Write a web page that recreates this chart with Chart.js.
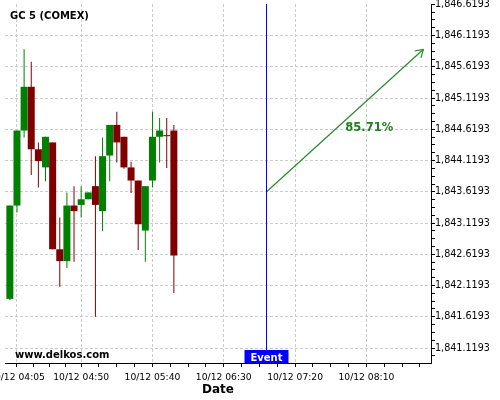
<!DOCTYPE html>
<html>
<head>
<meta charset="utf-8">
<script src="https://cdn.jsdelivr.net/npm/chart.js@4.4.1/dist/chart.umd.min.js"></script>
<style>
  html, body { margin: 0; padding: 0; background: #fff; }
</style>
</head>
<body>
<canvas id="chart" width="500" height="400"></canvas>
<script>
// --- candle data (5 min bars, 10/12) ---
const candleTimes = ['04:00','04:05','04:10','04:15','04:20','04:25','04:30','04:35','04:40','04:45','04:50','04:55',
                     '05:00','05:05','05:10','05:15','05:20','05:25','05:30','05:35','05:40','05:45','05:50','05:55'];
const openVals  = [1841.906,1843.40,1844.60,1845.30,1844.30,1844.01,1844.41,1842.70,1842.51,1843.40,1843.41,1843.50,
                   1843.71,1843.31,1844.20,1844.69,1844.50,1844.01,1843.80,1843.00,1843.80,1844.50,1844.52,1844.60];
const highVals  = [1843.40,1844.60,1845.90,1845.70,1844.41,1844.50,1844.41,1843.21,1843.61,1843.71,1843.71,1843.61,
                   1844.19,1844.49,1844.69,1844.90,1844.50,1844.10,1843.80,1843.71,1844.90,1844.80,1844.80,1844.69];
const lowVals   = [1841.89,1843.29,1844.49,1843.89,1843.69,1843.79,1842.70,1842.10,1842.40,1842.50,1843.21,1843.50,
                   1841.62,1842.99,1843.79,1844.09,1843.99,1843.60,1842.69,1842.50,1843.69,1844.09,1844.00,1842.00];
const closeVals = [1843.40,1844.60,1845.30,1844.30,1844.11,1844.50,1842.70,1842.51,1843.40,1843.31,1843.50,1843.61,
                   1843.41,1844.19,1844.69,1844.41,1844.01,1843.80,1843.10,1843.71,1844.50,1844.60,1844.51,1842.60];

// --- axis ticks ---
const xTickTimes = ['04:05','04:50','05:40','06:30','07:20','08:10'];
const yTickValues = [1841.1193,1841.6193,1842.1193,1842.6193,1843.1193,1843.6193,
                     1844.1193,1844.6193,1845.1193,1845.6193,1846.1193,1846.6193];

// --- event + forecast arrow ---
const eventTime = '07:00';
const arrowTimes = ['07:00','08:50'];
const arrowValues = [1843.62, 1845.90];
const forecastText = '85.71%';
const forecastAt = { time: '08:12', value: 1844.65 };

const X_MIN = 236.6, X_MAX = 535.3;       // minutes of the day
const Y_MIN = 1840.88, Y_MAX = 1846.625;

const GREEN = '#008000', RED = '#800000';

function toMin(t) { const [h, m] = t.split(':').map(Number); return h * 60 + m; }
function fmtTime(v) {
  const h = Math.floor(v / 60), m = Math.round(v - h * 60);
  return String(h).padStart(2, '0') + ':' + String(m).padStart(2, '0');
}
function fmtPrice(v) {
  const [i, d] = v.toFixed(4).split('.');
  return i.replace(/\B(?=(\d{3})+(?!\d))/g, ',') + '.' + d;
}

// majors from the tick lists, minors at quarter steps in between
function withMinors(majors, lo, hi, prevStep, nextStep) {
  const out = [];
  const add = (v, mj) => { if (v >= lo - 1e-9 && v <= hi + 1e-9) out.push({ value: v, mj }); };
  for (let k = 1; k <= 8; k++) add(majors[0] - k * prevStep / 4, false);
  majors.forEach((v, i) => {
    add(v, true);
    const step = i < majors.length - 1 ? majors[i + 1] - v : nextStep;
    for (let k = 1; k < 4; k++) add(v + k * step / 4, false);
    if (i === majors.length - 1) for (let k = 4; k <= 40; k++) add(v + k * step / 4, false);
  });
  return out.sort((a, b) => a.value - b.value);
}

const bodies = candleTimes.map((t, i) => ({ x: toMin(t), y: [openVals[i], closeVals[i]] }));
const wicks = candleTimes.map((t, i) => ({ x: toMin(t), y: [lowVals[i], highVals[i]] }));
const candleColors = candleTimes.map((t, i) => closeVals[i] >= openVals[i] ? GREEN : RED);
const arrowData = arrowTimes.map((t, i) => ({ x: toMin(t), y: arrowValues[i] }));

Chart.defaults.font.family = 'DejaVu Sans';
Chart.defaults.color = '#000';

const overlay = {
  id: 'overlay',
  afterDatasetsDraw(chart) {
    const { ctx, chartArea, scales: { x, y } } = chart;
    ctx.save();

    // event line
    const ex = Math.round(x.getPixelForValue(toMin(eventTime)));
    ctx.fillStyle = '#0000ff';
    ctx.fillRect(ex - 1, chartArea.top, 1, chartArea.bottom - chartArea.top);

    // arrow head
    const pts = chart.getDatasetMeta(2).data;
    const p0 = pts[0], p1 = pts[pts.length - 1];
    const ang = Math.atan2(p1.y - p0.y, p1.x - p0.x);
    ctx.strokeStyle = '#2a8a2a';
    ctx.lineWidth = 1.2;
    ctx.beginPath();
    [-0.55, 0.55].forEach(a => {
      ctx.moveTo(p1.x, p1.y);
      ctx.lineTo(p1.x - 9 * Math.cos(ang + a), p1.y - 9 * Math.sin(ang + a));
    });
    ctx.stroke();

    // forecast percentage
    ctx.fillStyle = '#1f7f1f';
    ctx.font = 'bold 11.5px "DejaVu Sans"';
    ctx.textAlign = 'center';
    ctx.textBaseline = 'alphabetic';
    ctx.fillText(forecastText, x.getPixelForValue(toMin(forecastAt.time)), y.getPixelForValue(forecastAt.value) + 4);

    // event tag
    ctx.fillStyle = '#0000ff';
    ctx.fillRect(ex - 22.5, chartArea.bottom - 13, 44, 13);
    ctx.fillStyle = '#fff';
    ctx.font = 'bold 10px "DejaVu Sans"';
    ctx.fillText('Event', ex - 0.5, chartArea.bottom - 2.5);
    ctx.restore();
  },
  afterDraw(chart) {
    const { ctx } = chart;
    ctx.save();
    ctx.fillStyle = '#000';
    ctx.textAlign = 'left';
    ctx.textBaseline = 'alphabetic';
    ctx.font = 'bold 10px "DejaVu Sans"';
    ctx.fillText('GC 5 (COMEX)', 10, 19);
    ctx.fillText('www.delkos.com', 15, 358);
    ctx.restore();
  }
};

new Chart(document.getElementById('chart'), {
  type: 'bar',
  data: {
    datasets: [
      {
        label: 'body',
        data: bodies,
        backgroundColor: candleColors,
        barThickness: 7,
        minBarLength: 1,
        grouped: false,
        inflateAmount: 0,
        borderWidth: 0,
        order: 1
      },
      {
        label: 'wick',
        data: wicks,
        backgroundColor: candleColors,
        barThickness: 1,
        grouped: false,
        inflateAmount: 0,
        borderWidth: 0,
        order: 2
      },
      {
        type: 'line',
        label: 'forecast',
        data: arrowData,
        borderColor: '#2a8a2a',
        borderWidth: 1.2,
        pointRadius: 0,
        order: 0
      }
    ]
  },
  options: {
    responsive: false,
    animation: false,
    layout: { padding: { left: 5, top: 4, right: 0, bottom: 0 } },
    plugins: { legend: { display: false }, tooltip: { enabled: false } },
    scales: {
      x: {
        type: 'linear',
        min: X_MIN,
        max: X_MAX,
        offset: false,
        afterBuildTicks(s) {
          const majors = xTickTimes.map(toMin);
          s.ticks = withMinors(majors, X_MIN, X_MAX, majors[1] - majors[0], 50);
        },
        afterFit(s) { s.height = 37; s.paddingLeft = 0; s.paddingRight = 0; },
        grid: {
          offset: false,
          color: c => (c.tick && c.tick.mj) ? '#cccccc' : 'rgba(0,0,0,0)',
          tickColor: '#000',
          tickLength: 4,
          lineWidth: 1
        },
        border: { display: true, color: '#000', width: 1, dash: [3, 2] },
        ticks: {
          autoSkip: false,
          maxRotation: 0,
          minRotation: 0,
          padding: 5,
          font: { size: 9.2 },
          callback: (v, i, ticks) => ticks[i].mj ? '10/12 ' + fmtTime(v) : ''
        },
        title: {
          display: true,
          text: 'Date',
          font: { size: 12, weight: 'bold' },
          padding: { top: 0, bottom: 3 }
        }
      },
      y: {
        position: 'right',
        min: Y_MIN,
        max: Y_MAX,
        afterBuildTicks(s) {
          s.ticks = withMinors(yTickValues, Y_MIN, Y_MAX, 0.5, 0.5);
        },
        afterFit(s) { s.width = 69; s.paddingTop = 0; s.paddingBottom = 0; },
        grid: {
          color: c => (c.tick && c.tick.mj && c.tick.value < 1846.6) ? '#cccccc' : 'rgba(0,0,0,0)',
          tickColor: '#000',
          tickLength: 4,
          lineWidth: 1
        },
        border: { display: true, color: '#000', width: 1, dash: [3, 2] },
        ticks: {
          autoSkip: false,
          padding: 0,
          font: { size: 9.6 },
          callback: (v, i, ticks) => ticks[i].mj ? fmtPrice(v) : ''
        }
      }
    }
  },
  plugins: [overlay]
});
</script>
</body>
</html>
